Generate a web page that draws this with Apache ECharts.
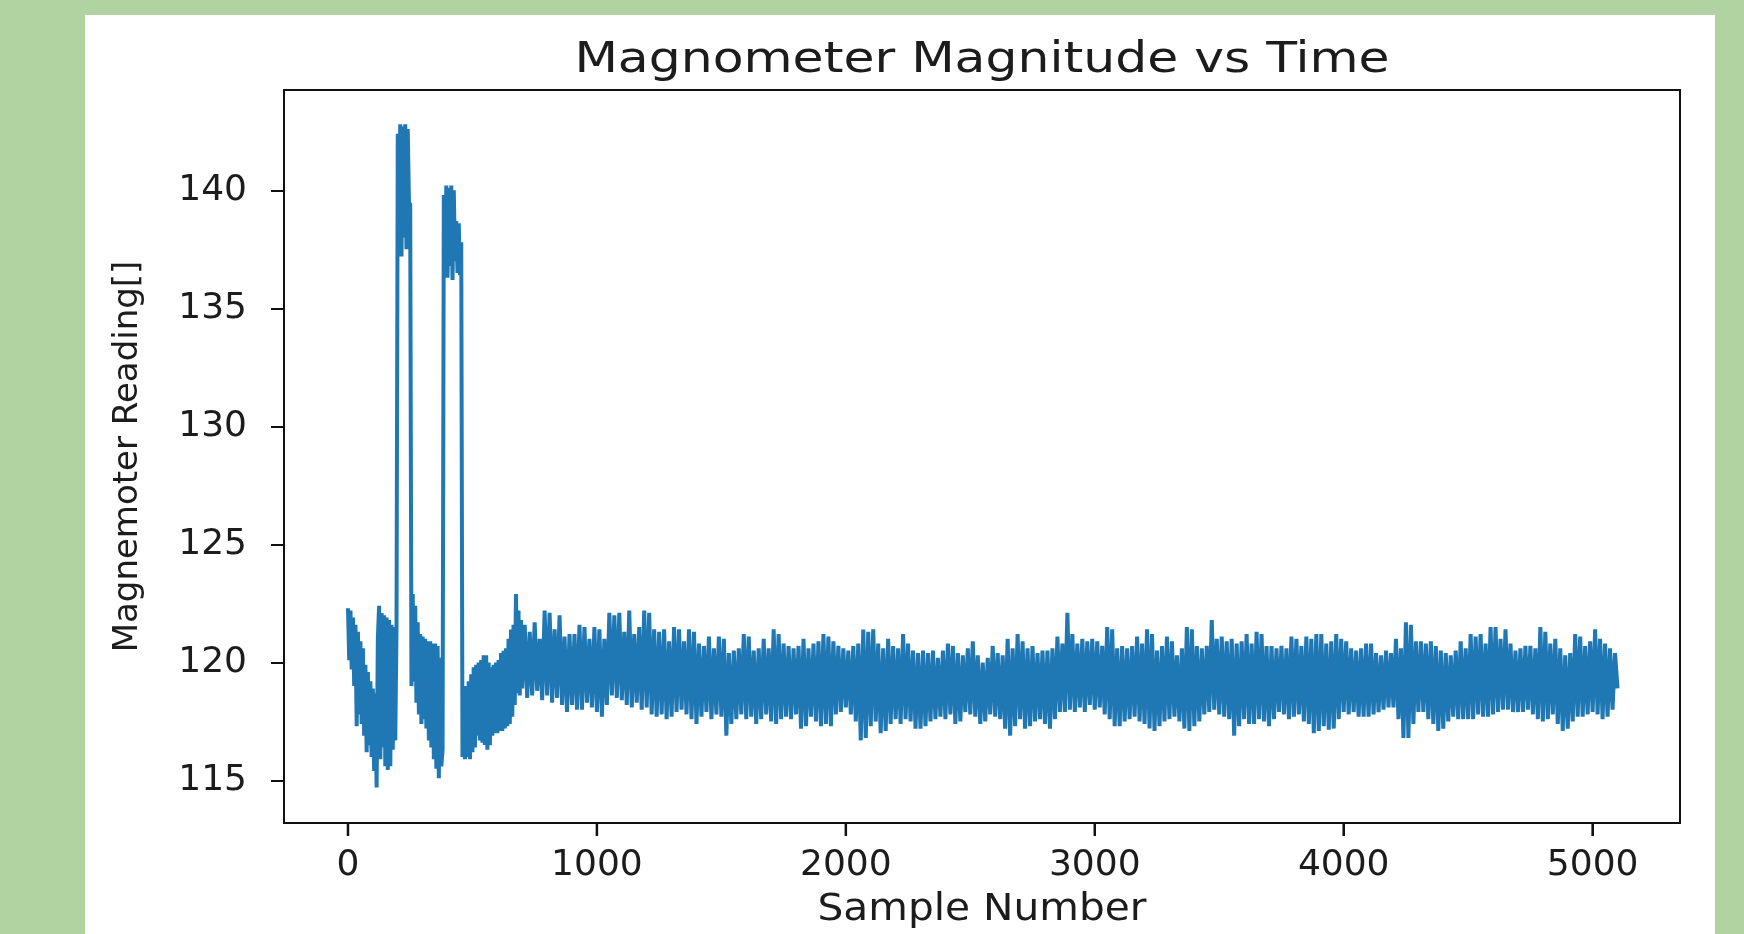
<!DOCTYPE html>
<html>
<head>
<meta charset="utf-8">
<script src="https://cdn.jsdelivr.net/npm/echarts@6/dist/echarts.min.js"></script>
<style>
html,body{margin:0;padding:0;background:#b1d3a1;width:1744px;height:934px;overflow:hidden;}
#panel{position:absolute;left:85px;top:15px;width:1630px;height:919px;background:#ffffff;}
#chart{position:absolute;left:0;top:0;width:1744px;height:934px;}
</style>
</head>
<body>
<div id="panel"></div>
<div id="chart"></div>
<script>
const titleText = 'Magnometer Magnitude vs Time';
const xAxisTitle = 'Sample Number';
const yAxisTitle = 'Magnemoter Reading[]';
const xTicks = [0, 1000, 2000, 3000, 4000, 5000];
const yTicks = [115, 120, 125, 130, 135, 140];

// samples 0 - 695, one reading every 5 samples
const earlyStep = 5;
const earlyReadings = [
  // 0 - 95
  122.3, 120.1, 122.2, 119.7, 121.9, 119.0, 121.6, 117.3, 121.3, 117.8,
  120.9, 117.4, 120.6, 116.9, 119.9, 116.2, 119.6, 116.5, 119.2, 116.0,
  // 100 - 195
  118.9, 115.4, 118.7, 114.7, 121.0, 122.4, 115.9, 122.1, 116.4, 122.0,
  115.6, 121.9, 115.45, 121.8, 115.6, 121.6, 116.3, 121.5, 116.7, 121.5,
  // 200 - 295
  142.4, 139.0, 142.8, 137.2, 142.7, 138.0, 142.8, 137.5, 142.6, 139.5,
  139.4, 119.0, 122.9, 119.2, 122.4, 118.3, 121.7, 117.8, 121.2, 117.4,
  // 300 - 395
  121.1, 117.6, 121.0, 117.2, 120.9, 116.7, 120.9, 116.4, 120.8, 115.9,
  120.8, 115.5, 120.7, 115.1, 120.2, 115.6, 116.3, 139.8, 137.0, 140.2,
  // 400 - 495
  136.3, 140.1, 136.8, 140.2, 136.2, 140.0, 137.0, 138.7, 136.5, 138.6,
  136.4, 137.8, 116.0, 119.0, 115.9, 119.0, 116.0, 119.2, 115.9, 119.5,
  // 500 - 595
  116.2, 119.8, 116.4, 119.9, 116.9, 120.0, 116.7, 120.1, 116.6, 120.3,
  116.5, 120.3, 116.3, 120.0, 116.5, 119.8, 116.9, 119.9, 117.0, 120.0,
  // 600 - 695
  117.0, 120.1, 117.1, 120.4, 117.1, 120.5, 117.2, 120.6, 117.3, 121.0,
  117.4, 121.4, 117.7, 121.6, 118.2, 122.9, 118.7, 122.2, 118.6, 121.8
];

// samples 700 - 5100, one reading every 10 samples
const bandStart = 700;
const bandStep = 10;
const bandReadings = [
  // 700
  118.9, 121.6, 118.5, 121.3, 118.6, 121.7, 118.8, 121.0, 118.4, 122.2,
  // 800
  118.6, 122.1, 118.3, 121.4, 118.5, 122.0, 118.2, 121.1, 117.9, 121.2,
  // 900
  118.2, 121.2, 118.0, 121.6, 118.0, 121.5, 118.3, 121.0, 118.1, 121.5,
  // 1000
  117.9, 121.4, 117.7, 121.0, 118.2, 122.1, 118.6, 122.0, 118.5, 122.1,
  // 1100
  118.4, 121.3, 118.2, 122.2, 118.1, 121.2, 118.3, 121.5, 118.0, 122.2,
  // 1200
  118.1, 122.1, 117.8, 121.4, 117.7, 121.3, 117.8, 121.4, 117.6, 120.9,
  // 1300
  117.7, 121.5, 117.9, 121.4, 118.0, 120.9, 117.8, 121.4, 117.6, 121.3,
  // 1400
  117.4, 120.8, 117.7, 120.7, 117.9, 121.1, 117.6, 120.6, 117.8, 121.1,
  // 1500
  117.7, 121.0, 116.9, 120.4, 117.4, 120.5, 117.6, 120.6, 117.8, 121.2,
  // 1600
  117.6, 121.1, 117.7, 120.5, 117.4, 120.6, 117.6, 121.0, 117.8, 120.6,
  // 1700
  117.5, 121.4, 117.4, 121.2, 117.6, 120.8, 117.7, 120.7, 117.6, 120.6,
  // 1800
  117.8, 120.7, 117.2, 121.0, 117.3, 120.6, 117.7, 120.8, 117.5, 120.9,
  // 1900
  117.3, 121.2, 117.4, 121.1, 117.3, 120.9, 117.8, 120.7, 117.9, 120.6,
  // 2000
  118.1, 120.5, 117.8, 120.7, 117.5, 120.8, 116.7, 121.4, 116.8, 121.3,
  // 2100
  117.3, 121.4, 117.5, 120.8, 117.0, 120.6, 117.1, 121.0, 117.4, 120.7,
  // 2200
  117.6, 120.6, 117.4, 121.2, 117.6, 120.8, 117.5, 120.5, 117.2, 120.4,
  // 2300
  117.2, 120.5, 117.3, 120.4, 117.5, 120.5, 117.6, 120.2, 117.7, 120.5,
  // 2400
  117.6, 120.8, 117.8, 120.7, 117.4, 120.4, 117.5, 120.3, 117.9, 120.6,
  // 2500
  117.8, 120.9, 117.7, 120.3, 117.4, 120.0, 117.5, 120.2, 117.8, 120.7,
  // 2600
  117.7, 120.4, 117.6, 120.3, 117.2, 121.0, 116.9, 120.6, 117.3, 121.2,
  // 2700
  117.6, 120.9, 117.2, 120.6, 117.3, 120.7, 117.5, 120.4, 117.6, 120.5,
  // 2800
  117.4, 120.5, 117.2, 120.6, 117.6, 121.1, 117.9, 120.8, 117.9, 122.1,
  // 2900
  118.0, 121.2, 117.9, 120.8, 118.1, 121.0, 117.9, 120.9, 118.2, 121.0,
  // 3000
  118.0, 120.9, 118.1, 120.7, 117.8, 121.5, 117.6, 121.4, 117.3, 120.6,
  // 3100
  117.3, 120.7, 117.5, 120.6, 117.6, 120.7, 117.7, 121.1, 117.5, 120.8,
  // 3200
  117.4, 121.4, 117.2, 121.2, 117.1, 120.5, 117.3, 120.7, 117.5, 121.1,
  // 3300
  117.6, 120.9, 117.7, 120.3, 117.5, 120.6, 117.2, 121.5, 117.1, 121.4,
  // 3400
  117.3, 120.7, 117.5, 120.6, 117.8, 120.7, 117.9, 121.8, 118.0, 121.0,
  // 3500
  117.8, 121.1, 117.7, 120.9, 117.6, 121.0, 116.9, 120.8, 117.3, 120.9,
  // 3600
  117.6, 121.2, 117.4, 120.8, 117.4, 121.3, 117.6, 121.2, 117.5, 120.7,
  // 3700
  117.3, 120.7, 117.6, 120.6, 117.9, 120.7, 117.8, 120.6, 117.6, 121.1,
  // 3800
  117.7, 121.0, 117.8, 120.7, 117.5, 121.1, 117.4, 121.0, 117.0, 121.2,
  // 3900
  117.1, 121.2, 117.3, 120.8, 117.15, 120.9, 117.2, 121.2, 117.6, 121.0,
  // 4000
  117.9, 120.9, 117.8, 120.6, 117.9, 120.5, 117.7, 120.6, 117.7, 120.8,
  // 4100
  117.7, 120.8, 117.8, 120.4, 117.9, 120.3, 118.0, 120.5, 118.1, 120.4,
  // 4200
  118.1, 121.0, 117.6, 120.6, 116.8, 121.7, 116.8, 121.6, 117.4, 120.9,
  // 4300
  117.9, 120.9, 117.9, 120.8, 117.6, 120.9, 117.4, 120.7, 117.1, 120.5,
  // 4400
  117.2, 120.4, 117.5, 120.3, 117.7, 120.5, 117.6, 120.9, 117.6, 120.6,
  // 4500
  117.6, 121.2, 117.6, 121.1, 117.8, 121.2, 117.7, 120.8, 117.7, 121.5,
  // 4600
  117.8, 121.5, 117.9, 121.0, 118.0, 121.4, 118.0, 120.8, 117.9, 120.5,
  // 4700
  117.9, 120.6, 117.9, 120.7, 118.0, 120.7, 117.8, 120.6, 117.6, 121.5,
  // 4800
  117.5, 121.3, 117.6, 120.8, 117.8, 121.0, 117.4, 120.6, 117.1, 120.3,
  // 4900
  117.2, 120.4, 117.5, 121.2, 117.7, 121.1, 117.7, 120.7, 117.8, 120.9,
  // 5000
  117.9, 121.4, 117.8, 121.0, 117.6, 120.8, 117.7, 120.6, 118.0, 120.4,
  // 5100
  118.9
];

const points = earlyReadings.map((v, i) => [i * earlyStep, v])
  .concat(bandReadings.map((v, i) => [bandStart + i * bandStep, v]));

const xMin = -257, xMax = 5351;
const yMin = 113.2, yMax = 144.25;
const tickLen = 13;
const textColor = '#1c1c1c';
const axisColor = '#111';
const fontFamily = 'DejaVu Sans';
const chart = echarts.init(document.getElementById('chart'), null, { renderer: 'canvas' });
chart.setOption({
  animation: false,
  backgroundColor: 'transparent',
  graphic: [{
    type: 'text',
    x: 982,
    y: 61,
    scaleX: 1.2,
    silent: true,
    style: {
      text: titleText,
      fontFamily: fontFamily,
      fontSize: 42,
      fill: textColor,
      textAlign: 'center',
      textVerticalAlign: 'middle',
      verticalAlign: 'middle'
    }
  }, {
    type: 'text',
    x: 982,
    y: 910,
    scaleX: 1.1,
    silent: true,
    style: {
      text: xAxisTitle,
      fontFamily: fontFamily,
      fontSize: 37,
      fill: textColor,
      textAlign: 'center',
      textVerticalAlign: 'middle',
      verticalAlign: 'middle'
    }
  }],
  grid: {
    left: 284, top: 90, width: 1396, height: 733,
    show: true, borderColor: axisColor, borderWidth: 2,
    backgroundColor: 'transparent', containLabel: false
  },
  xAxis: {
    type: 'value',
    min: xMin, max: xMax,
    axisLine: { show: true, onZero: false, lineStyle: { color: axisColor, width: 2 } },
    splitLine: { show: false },
    axisTick: { show: true, inside: false, length: tickLen, lineStyle: { color: axisColor, width: 2 }, customValues: xTicks },
    axisLabel: { show: true, margin: 25, fontFamily: fontFamily, fontSize: 36, color: textColor,
                 customValues: xTicks, formatter: (v) => String(v) }
  },
  yAxis: {
    type: 'value',
    min: yMin, max: yMax,
    name: yAxisTitle,
    nameLocation: 'middle',
    nameGap: 139,
    nameTextStyle: { fontFamily: fontFamily, fontSize: 34, color: textColor },
    axisLine: { show: true, onZero: false, lineStyle: { color: axisColor, width: 2 } },
    splitLine: { show: false },
    axisTick: { show: true, inside: false, length: tickLen, lineStyle: { color: axisColor, width: 2 }, customValues: yTicks },
    axisLabel: { show: true, margin: 37, fontFamily: fontFamily, fontSize: 36, color: textColor,
                 customValues: yTicks, formatter: (v) => String(v) }
  },
  series: [{
    type: 'line',
    data: points,
    showSymbol: false,
    symbol: 'none',
    clip: true,
    lineStyle: { color: '#1f77b4', width: 4 },
    emphasis: { disabled: true }
  }, {
    // x-axis tick marks, placed through the axis scale
    type: 'custom',
    silent: true,
    clip: false,
    z: 5,
    data: xTicks.map(v => [v, yMin]),
    renderItem: (params, api) => {
      const p = api.coord([api.value(0), api.value(1)]);
      return {
        type: 'rect',
        shape: { x: p[0] - 1.25, y: p[1], width: 2.5, height: tickLen },
        style: { fill: axisColor }
      };
    }
  }]
});
</script>
</body>
</html>
